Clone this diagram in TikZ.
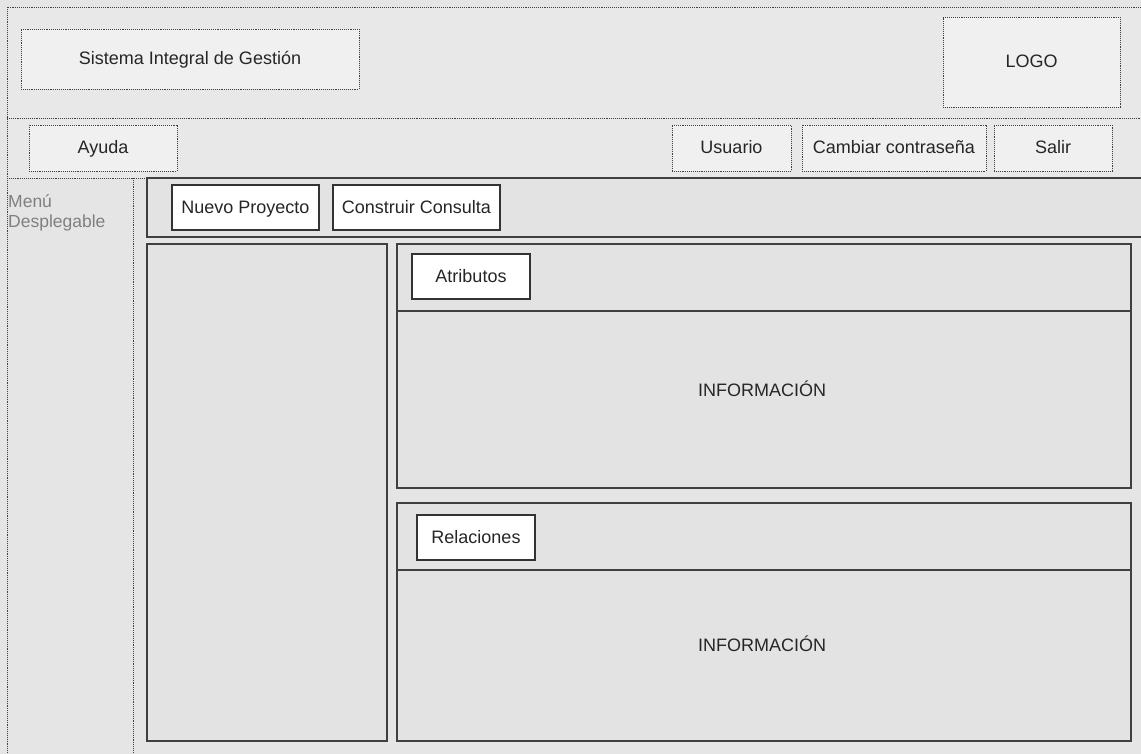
\documentclass[tikz,border=0pt]{standalone}
\usepackage{fontspec}
\setmainfont{Liberation Sans}
\begin{document}
\begin{tikzpicture}[x=1pt,y=-1pt,
  frame/.style={draw=black!75,densely dotted,line width=0.9pt},
  hbtn/.style={draw=black!75,densely dotted,line width=0.9pt,fill=black!6},
  panel/.style={draw=black!75,line width=1.4pt,fill=black!11},
  wbtn/.style={draw=black!80,line width=1.1pt,fill=white},
  lbl/.style={font=\fontsize{18}{21}\selectfont,text=black!85,text height=14pt,text depth=2pt},
  dim/.style={font=\fontsize{17.5}{20}\selectfont,text=black!50,align=left}]
% page background
\fill[black!10] (0,0) rectangle (1141,754);
\useasboundingbox (0,0) rectangle (1141,754);
% header band and navigation band
\fill[black!9] (7,7) rectangle (1141,178);
\draw[frame] (1141,7) -- (7,7) -- (7,754);
\draw[frame] (7,118) -- (1141,118);
\draw[frame] (7,178) -- (147,178);
\draw[frame] (133,178) -- (133,754);
% header boxes
\node[hbtn,minimum width=338pt,minimum height=60pt,lbl] (title) at (190,59) {Sistema Integral de Gestión};
\node[hbtn,minimum width=177pt,minimum height=90pt,lbl] (logo) at (1031.5,62) {LOGO};
% navigation buttons
\node[hbtn,minimum width=148pt,minimum height=46pt,lbl] (ayuda) at (103,148) {Ayuda};
\node[hbtn,minimum width=119pt,minimum height=46pt,lbl] (usuario) at (731.5,148) {Usuario};
\node[hbtn,minimum width=184pt,minimum height=46pt,lbl,inner sep=0pt] (pwd) at (894,148) {Cambiar contraseña};
\node[hbtn,minimum width=118pt,minimum height=46pt,lbl] (salir) at (1053,148) {Salir};
% side menu label
\node[dim,anchor=north west,inner sep=0pt] (menu) at (8,194) {Menú\\Desplegable};
% toolbar
\draw[panel] (1141,178) -- (147,178) -- (147,237) -- (1141,237);
\node[wbtn,minimum width=147pt,minimum height=45pt,lbl,inner sep=0pt] (nuevo) at (245.5,207.5) {Nuevo Proyecto};
\node[wbtn,minimum width=167pt,minimum height=45pt,lbl,inner sep=0pt] (consulta) at (416.5,207.5) {Construir Consulta};
% left work panel
\node[panel,minimum width=240pt,minimum height=497pt] (tree) at (267,492.5) {};
% attributes panel
\draw[panel] (397,244) rectangle (1131,488);
\draw[black!75,line width=1.4pt] (397,311) -- (1131,311);
\node[wbtn,minimum width=118pt,minimum height=45pt,lbl] (atrib) at (471,276.5) {Atributos};
\node[lbl] (info1) at (762,390) {INFORMACIÓN};
% relations panel
\draw[panel] (397,503) rectangle (1131,741);
\draw[black!75,line width=1.4pt] (397,570) -- (1131,570);
\node[wbtn,minimum width=118pt,minimum height=45pt,lbl] (rel) at (476,537.5) {Relaciones};
\node[lbl] (info2) at (762,645) {INFORMACIÓN};
\end{tikzpicture}
\end{document}
